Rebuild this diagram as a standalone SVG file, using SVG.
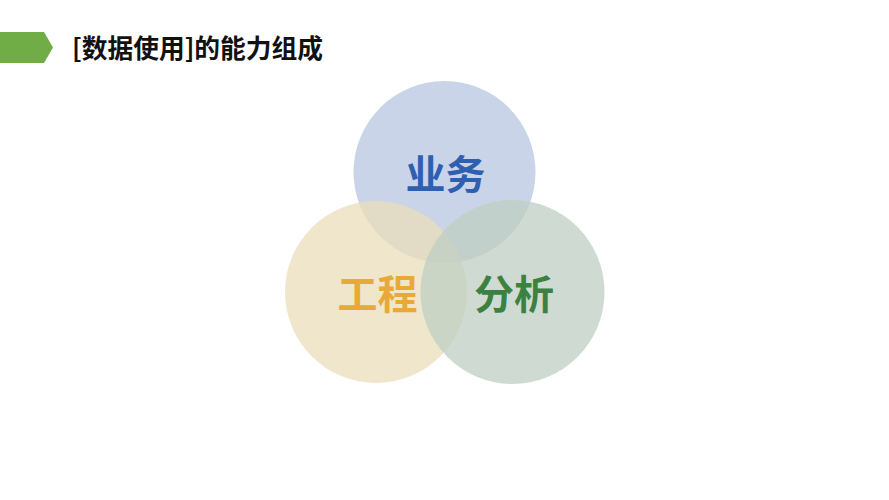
<svg xmlns="http://www.w3.org/2000/svg" width="889" height="500" viewBox="0 0 889 500">
<style>
.cjk{font-family:"Noto Sans CJK SC","Liberation Sans",sans-serif;font-weight:bold}
.lbl{font-size:40px;text-anchor:middle}
.c{fill-opacity:0.75}
</style>
<rect width="889" height="500" fill="#ffffff"/>
<g id="header">
<polygon points="0,32 44,32 53,47.5 44,63 0,63" fill="#70ad47"/>
<text class="cjk" x="72" y="58" font-size="26" fill="#111111" textLength="251" lengthAdjust="spacingAndGlyphs">[数据使用]的能力组成</text>
</g>
<g id="node-business">
<circle class="c" cx="444.5" cy="172" r="91" fill="#b7c6e0"/>
</g>
<g id="node-engineering">
<circle class="c" cx="376" cy="292" r="91" fill="#eadebb"/>
</g>
<g id="node-analysis">
<circle class="c" cx="512.5" cy="292" r="92" fill="#bfcfc3"/>
</g>
<g id="labels">
<text class="cjk lbl" x="445.5" y="189" fill="#2f5fb0">业务</text>
<text class="cjk lbl" x="377.5" y="309" fill="#e9a938">工程</text>
<text class="cjk lbl" x="514" y="309" fill="#3b8140">分析</text>
</g>
<g id="connectors"></g>
</svg>
